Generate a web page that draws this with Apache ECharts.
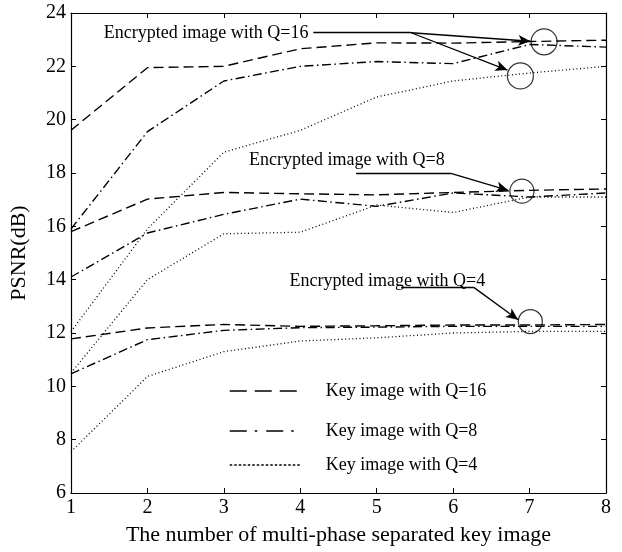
<!DOCTYPE html>
<html>
<head>
<meta charset="utf-8">
<script src="https://cdn.jsdelivr.net/npm/echarts@6/dist/echarts.min.js"></script>
<style>
html,body{margin:0;padding:0;background:#fff;}
#chart{width:622px;height:552px;}
</style>
</head>
<body>
<div id="chart"></div>
<script>
// ---- data ----
const xValues = [1, 2, 3, 4, 5, 6, 7, 8];
const yTicks = [6, 8, 10, 12, 14, 16, 18, 20, 22, 24];

// Encrypted image with Q=16
const key16_enc16 = [19.6, 21.95, 22.0, 22.66, 22.88, 22.87, 22.93, 22.98];
const key8_enc16  = [15.9, 19.55, 21.45, 22.0, 22.18, 22.1, 22.82, 22.72];
const key4_enc16  = [12.05, 15.9, 18.78, 19.6, 20.85, 21.45, 21.75, 22.0];
// Encrypted image with Q=8
const key16_enc8 = [15.8, 17.02, 17.27, 17.22, 17.18, 17.27, 17.35, 17.4];
const key8_enc8  = [14.1, 15.75, 16.45, 17.02, 16.75, 17.25, 17.1, 17.25];
const key4_enc8  = [10.5, 14.0, 15.72, 15.78, 16.8, 16.52, 17.1, 17.1];
// Encrypted image with Q=4
const key16_enc4 = [11.78, 12.19, 12.32, 12.25, 12.27, 12.3, 12.3, 12.32];
const key8_enc4  = [10.47, 11.75, 12.1, 12.2, 12.22, 12.25, 12.25, 12.25];
const key4_enc4  = [7.55, 10.37, 11.3, 11.7, 11.82, 12.0, 12.06, 12.06];

const legendNames = ['Key image with Q=16', 'Key image with Q=8', 'Key image with Q=4'];

// annotations (data coordinates)
const annotTexts = ['Encrypted image with Q=16', 'Encrypted image with Q=8', 'Encrypted image with Q=4'];
const annotTextPos = [[1.43, 23.24], [3.33, 18.48], [3.86, 13.93]];
const circlePos = [[7.19, 22.92], [6.88, 21.64], [6.9, 17.32], [7.01, 12.43]];
const circleSize = [26, 26, 24, 24];
const leaderLines = [
  [[4.17, 23.26], [5.45, 23.26]],
  [[4.73, 17.99], [5.97, 17.99]],
  [[5.32, 13.71], [6.27, 13.71]]
];
const arrowLines = [
  [[5.45, 23.26], [7.01, 22.94]],
  [[5.45, 23.26], [6.71, 21.86]],
  [[5.97, 17.99], [6.72, 17.35]],
  [[6.27, 13.71], [6.85, 12.5]]
];

// ---- styles ----
const FONT = 'Liberation Serif';
const styles = {
  dashed: {type: [10, 5], width: 1.4},
  dashdot: {type: [9, 3.5, 1.5, 3.5], width: 1.4},
  dotted: {type: [1, 2.6], width: 1.3}
};

function mk(name, arr, st) {
  return {
    type: 'line', name: name,
    data: xValues.map((x, i) => [x, arr[i]]),
    symbol: 'none', silent: true,
    lineStyle: Object.assign({color: '#000'}, st),
    itemStyle: {color: '#000'}
  };
}

const series = [
  mk(legendNames[0], key16_enc16, styles.dashed),
  mk(legendNames[1], key8_enc16, styles.dashdot),
  mk(legendNames[2], key4_enc16, styles.dotted),
  mk(legendNames[0], key16_enc8, styles.dashed),
  mk(legendNames[1], key8_enc8, styles.dashdot),
  mk(legendNames[2], key4_enc8, styles.dotted),
  mk(legendNames[0], key16_enc4, styles.dashed),
  mk(legendNames[1], key8_enc4, styles.dashdot),
  mk(legendNames[2], key4_enc4, styles.dotted),
  {
    type: 'scatter', name: 'annot', silent: true,
    data: circlePos.map((p, i) => ({value: p, symbolSize: circleSize[i]})),
    symbol: 'circle',
    itemStyle: {color: 'rgba(0,0,0,0)', borderColor: '#000', borderWidth: 1.2},
    markLine: {
      silent: true, animation: false,
      symbol: ['none', 'none'],
      lineStyle: {color: '#000', type: 'solid', width: 1.3},
      label: {show: false},
      data: leaderLines.map(l => [{coord: l[0], symbol: 'none'}, {coord: l[1], symbol: 'none'}])
        .concat(arrowLines.map(l => [{coord: l[0], symbol: 'none'}, {coord: l[1], symbol: 'arrow', symbolSize: [8, 12]}]))
    },
    markPoint: {
      silent: true, animation: false,
      symbol: 'circle', symbolSize: 0,
      label: {show: true, position: 'right', distance: 0, color: '#000',
              fontFamily: FONT, fontSize: 18, align: 'left', verticalAlign: 'middle',
              formatter: p => p.name},
      data: annotTexts.map((t, i) => ({name: t, coord: annotTextPos[i]}))
    }
  }
];

function mkLegend(name, top, st) {
  return {
    show: true, data: [name], left: 224, top: top, orient: 'horizontal',
    itemWidth: 71, itemHeight: 14, selectedMode: false,
    itemStyle: {opacity: 0},
    textStyle: {color: '#000', fontFamily: FONT, fontSize: 18, padding: [0, 0, 0, 20]},
    lineStyle: Object.assign({color: '#000', opacity: 1}, st)
  };
}

const chart = echarts.init(document.getElementById('chart'), null, {renderer: 'canvas'});
const axisCommon = {
  type: 'value',
  axisLine: {show: true, lineStyle: {color: '#000', width: 1.2}},
  axisTick: {show: true, inside: true, length: 5, lineStyle: {color: '#000', width: 1}},
  splitLine: {show: false}
};
chart.setOption({
  animation: false,
  backgroundColor: '#fff',
  grid: {left: 69, right: 16, top: 13, bottom: 59},
  legend: [
    mkLegend(legendNames[0], 377, {type: [17, 8], width: 1.5}),
    mkLegend(legendNames[1], 417, {type: [17, 8, 2.5, 9], width: 1.5}),
    mkLegend(legendNames[2], 451, {type: [2.5, 2], width: 1.5})
  ],
  xAxis: [
    Object.assign({}, axisCommon, {
      min: 1, max: 8, interval: 1, position: 'bottom',
      axisLabel: {color: '#000', fontFamily: FONT, fontSize: 20, margin: 5},
      name: 'The number of multi-phase separated key image',
      nameLocation: 'middle', nameGap: 31,
      nameTextStyle: {color: '#000', fontFamily: FONT, fontSize: 22}
    }),
    Object.assign({}, axisCommon, {
      min: 1, max: 8, interval: 1, position: 'top', axisLabel: {show: false}
    })
  ],
  yAxis: [
    Object.assign({}, axisCommon, {
      min: yTicks[0], max: yTicks[yTicks.length - 1], interval: 2, position: 'left',
      axisLabel: {color: '#000', fontFamily: FONT, fontSize: 20, margin: 5},
      name: 'PSNR(dB)', nameLocation: 'middle', nameGap: 41,
      nameTextStyle: {color: '#000', fontFamily: FONT, fontSize: 22}
    }),
    Object.assign({}, axisCommon, {
      min: yTicks[0], max: yTicks[yTicks.length - 1], interval: 2, position: 'right',
      axisLabel: {show: false}
    })
  ],
  series: series
});
</script>
</body>
</html>
